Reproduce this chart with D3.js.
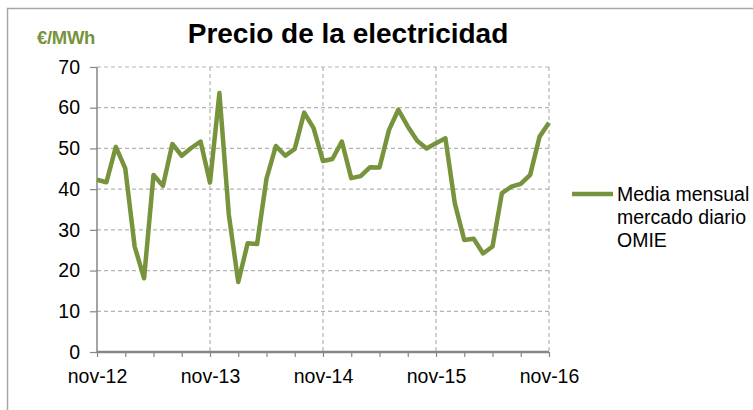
<!DOCTYPE html>
<html lang="es">
  <head>
    <meta charset="UTF-8" />
    <title>Precio de la electricidad</title>
    <script src="https://d3js.org/d3.v7.min.js"></script>
    <style>
      body { margin: 0; background: #fff; }
      svg text { font-family: "Liberation Sans", Arial, sans-serif; }
    </style>
  </head>
  <body>
    <div id="chart"></div>
    <script>
      // Meses (nov-12 .. nov-16)
      const monthNames = ["ene","feb","mar","abr","may","jun","jul","ago","sep","oct","nov","dic"];
      const months = [];
      for (let i = 0; i < 49; i++) {
        const m = (10 + i) % 12;
        const y = 12 + Math.floor((10 + i) / 12);
        months.push(monthNames[m] + "-" + y);
      }

      // Media mensual mercado diario OMIE (€/MWh)
      const precios = [
        42.3, 41.7, 50.4, 45.1, 25.9, 18.1, 43.5, 40.8, 51.1, 48.2, 50.1, 51.7,
        41.6, 63.6, 33.7, 17.2, 26.7, 26.5, 42.6, 50.6, 48.2, 49.9, 58.8, 55.0,
        46.9, 47.4, 51.7, 42.7, 43.2, 45.4, 45.3, 54.5, 59.5, 55.4, 51.9, 50.0,
        51.3, 52.5, 36.5, 27.5, 27.8, 24.2, 25.9, 39.0, 40.6, 41.3, 43.5, 52.9,
        56.3
      ];

      const yTicks = [0, 10, 20, 30, 40, 50, 60, 70];
      const xLabelIdx = [0, 12, 24, 36, 48];
      const xMinorIdx = d3.range(0, 49, 3);

      const W = 753, H = 410;
      const green = "#77933c";
      const axisGray = "#868686";
      const gridGray = "#b3b3b3";

      const svg = d3.select("#chart").append("svg")
        .attr("width", W).attr("height", H);

      // marco exterior
      svg.append("rect")
        .attr("x", 7.5).attr("y", 8.5)
        .attr("width", 800).attr("height", 500)
        .attr("fill", "none").attr("stroke", "#a6a6a6").attr("stroke-width", 1.5);

      const x = d3.scaleLinear().domain([0, 48]).range([97, 549]);
      const y = d3.scaleLinear().domain([0, 70]).range([352, 67]);

      // rejilla horizontal
      svg.append("g").selectAll("line")
        .data(yTicks.filter(d => d > 0))
        .join("line")
        .attr("x1", x(0)).attr("x2", x(48))
        .attr("y1", d => y(d)).attr("y2", d => y(d))
        .attr("stroke", gridGray).attr("stroke-width", 1.2)
        .attr("stroke-dasharray", "4,3");

      // rejilla vertical
      svg.append("g").selectAll("line")
        .data(xLabelIdx.filter(d => d > 0))
        .join("line")
        .attr("x1", d => x(d)).attr("x2", d => x(d))
        .attr("y1", y(70)).attr("y2", y(0))
        .attr("stroke", gridGray).attr("stroke-width", 1.2)
        .attr("stroke-dasharray", "4,3");

      // eje Y
      const yAxis = svg.append("g")
        .attr("transform", `translate(${x(0)},0)`)
        .call(d3.axisLeft(y).tickValues(yTicks).tickSize(7).tickPadding(10));
      yAxis.select(".domain").attr("stroke", axisGray).attr("stroke-width", 1.5)
        .attr("d", `M0,${y(70)}V${y(0)}`);
      yAxis.selectAll(".tick line").attr("stroke", axisGray).attr("stroke-width", 1.2);
      yAxis.selectAll(".tick text")
        .attr("font-size", 19.5).attr("fill", "#000")
        .style("font-family", '"Liberation Sans", Arial, sans-serif');

      // eje X
      const xAxis = svg.append("g")
        .attr("transform", `translate(0,${y(0)})`)
        .call(d3.axisBottom(x).tickValues(xMinorIdx).tickSize(5)
          .tickFormat(d => xLabelIdx.includes(d) ? months[d] : ""));
      xAxis.select(".domain").attr("stroke", axisGray).attr("stroke-width", 2.5)
        .attr("d", `M${x(0)},0H${x(48)}`);
      xAxis.selectAll(".tick line").attr("stroke", axisGray).attr("stroke-width", 1.2);
      xAxis.selectAll(".tick text")
        .attr("font-size", 19.5).attr("fill", "#000").attr("y", 17)
        .style("font-family", '"Liberation Sans", Arial, sans-serif');

      // serie
      const line = d3.line()
        .x((d, i) => x(i))
        .y(d => y(d));
      svg.append("path")
        .datum(precios)
        .attr("d", line)
        .attr("fill", "none")
        .attr("stroke", green)
        .attr("stroke-width", 4.5)
        .attr("stroke-linejoin", "round");

      // título
      svg.append("text")
        .attr("x", 348).attr("y", 43)
        .attr("text-anchor", "middle")
        .attr("font-size", 28).attr("font-weight", "bold")
        .text("Precio de la electricidad");

      // unidades
      svg.append("text")
        .attr("x", 37).attr("y", 44)
        .attr("font-size", 18.5).attr("font-weight", "bold")
        .attr("letter-spacing", -0.3)
        .attr("fill", green)
        .text("€/MWh");

      // leyenda
      svg.append("line")
        .attr("x1", 572).attr("x2", 613)
        .attr("y1", 194).attr("y2", 194)
        .attr("stroke", green).attr("stroke-width", 4.5);
      const legendLines = ["Media mensual", "mercado diario", "OMIE"];
      svg.append("g").selectAll("text")
        .data(legendLines)
        .join("text")
        .attr("x", 617)
        .attr("y", (d, i) => 201 + i * 23)
        .attr("font-size", 19.5)
        .text(d => d);
    </script>
  </body>
</html>
